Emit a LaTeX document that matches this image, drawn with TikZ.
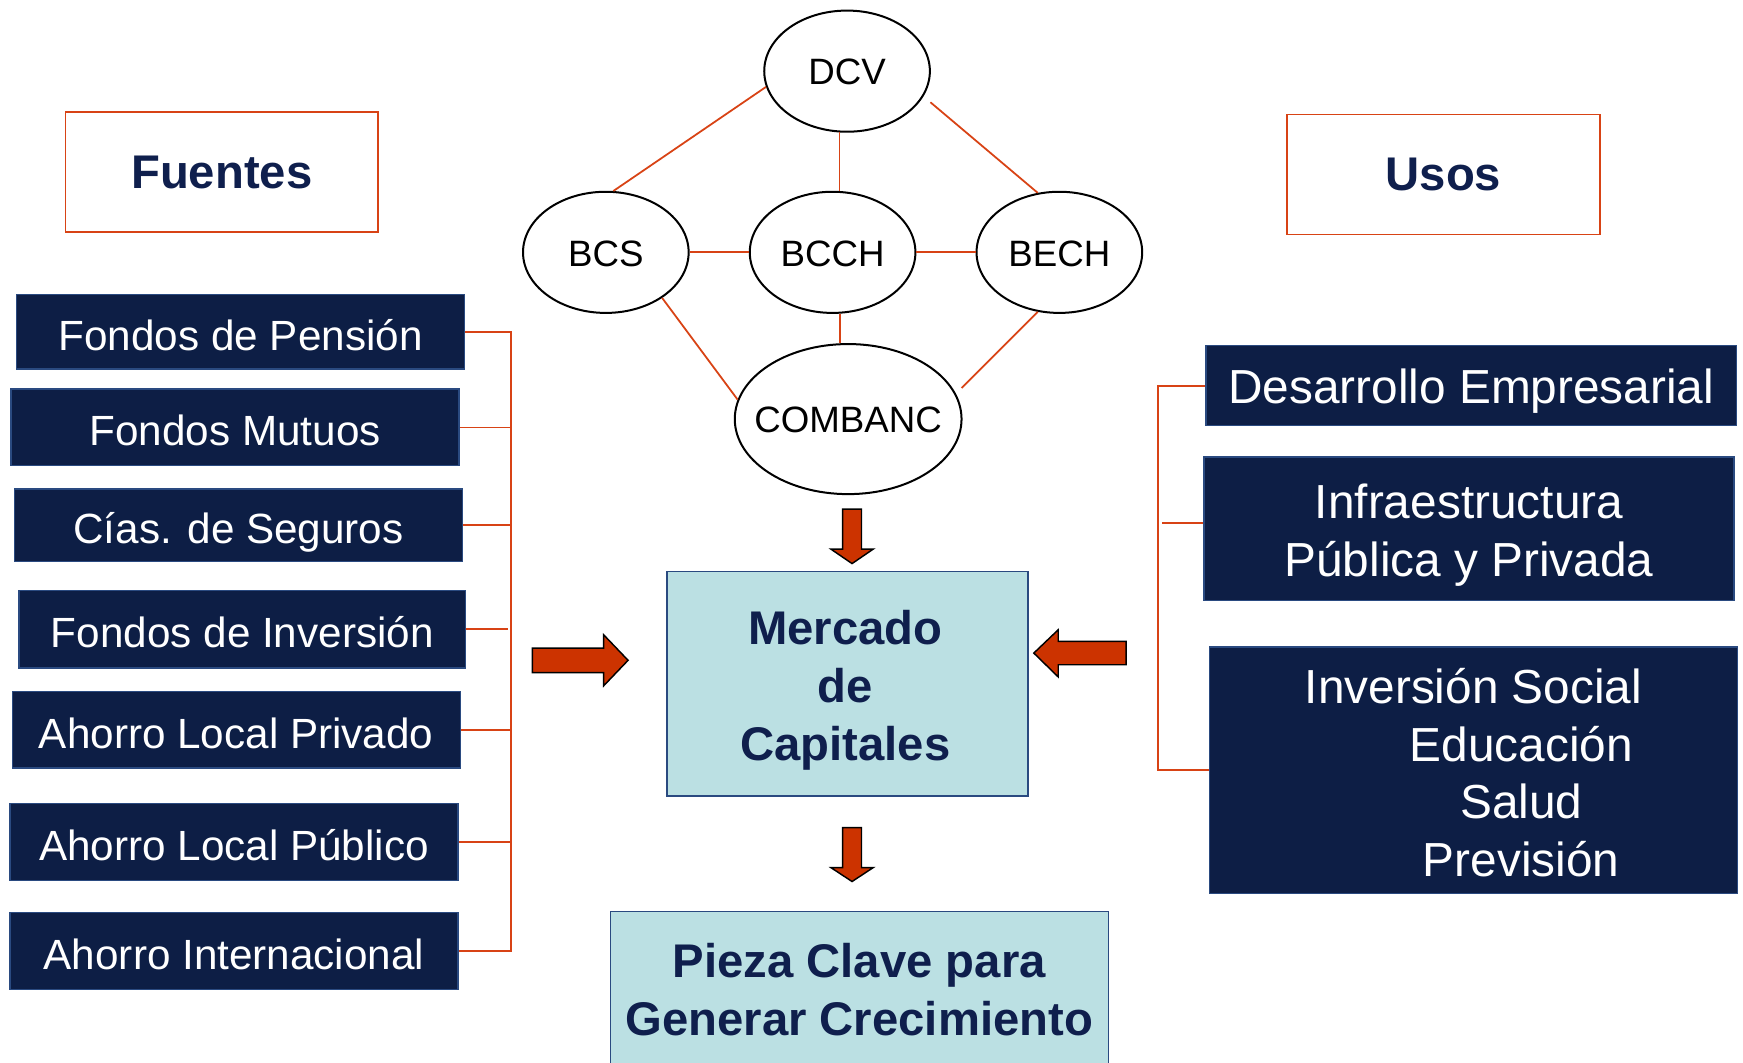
\documentclass[tikz,border=0pt]{standalone}
\usepackage{fontspec}
\setmainfont{Liberation Sans}
\usetikzlibrary{shapes.geometric,calc}
\definecolor{navy}{HTML}{0D1E45}
\definecolor{navyedge}{HTML}{2A4A80}
\definecolor{lblue}{HTML}{BBE0E3}
\definecolor{txtnavy}{HTML}{0F1F4D}
\definecolor{redl}{HTML}{D84315}
\definecolor{arrred}{HTML}{CC3300}
\begin{document}
\begin{tikzpicture}[x=1pt,y=-1pt,
  navybox/.style={rectangle, fill=navy, draw=navyedge, line width=1.2pt, text=white,
    inner sep=0pt, font=\fontsize{38}{46}\selectfont, text height=40.7pt, text depth=7.6pt},
  rnavy/.style={rectangle, fill=navy, draw=navyedge, line width=1.2pt, inner sep=0pt},
  rtext/.style={text=white, inner sep=0pt, align=center, font=\fontsize{43}{52}\selectfont},
  titlebox/.style={rectangle, draw=redl, line width=1.6pt, fill=white, text=txtnavy,
    inner sep=0pt, minimum width=281pt, minimum height=108pt,
    font=\fontsize{42.5}{52}\bfseries\selectfont},
  bluebox/.style={rectangle, fill=lblue, draw=navyedge, line width=1.4pt, inner sep=0pt},
  btext/.style={text=txtnavy, inner sep=0pt, align=center, font=\fontsize{42.5}{52}\bfseries\selectfont},
  oval/.style={ellipse, draw=black, line width=1.8pt, fill=white, inner sep=0pt,
    font=\fontsize{33}{40}\selectfont, text height=24.7pt, text depth=0pt},
  redline/.style={draw=redl, line width=1.6pt},
  blockarrow/.style={fill=arrred, draw=black, line width=1.3pt, line join=miter}
]
\useasboundingbox (0,0) rectangle (1568,956);

% titles
\node[titlebox] (fuentes) at (199.5,155) {Fuentes};
\node[titlebox] (usos) at (1298.5,157) {Usos};

% left boxes
\node[navybox, minimum width=403pt, minimum height=67pt] (fp) at (216.5,298.5) {Fondos de Pensión};
\node[navybox, minimum width=403pt, minimum height=69pt] (fm) at (211.5,384.5) {Fondos Mutuos};
\node[navybox, minimum width=403pt, minimum height=65pt] (cs) at (214.5,472.5) {Cías. de Seguros};
\node[navybox, minimum width=402pt, minimum height=70pt] (fi) at (218,566) {Fondos de Inversión};
\node[navybox, minimum width=403pt, minimum height=69pt] (alpr) at (212.5,656.5) {Ahorro Local Privado};
\node[navybox, minimum width=403pt, minimum height=69pt] (alpu) at (210.5,757.5) {Ahorro Local Público};
\node[navybox, minimum width=403pt, minimum height=69pt] (ai) at (210.5,855.5) {Ahorro Internacional};

% right boxes
\node[rnavy, minimum width=477pt, minimum height=72pt] (de) at (1323.5,347) {};
\node[rtext] (de-t) at ($(de.center)+(0,5)$) {Desarrollo Empresarial};
\node[rnavy, minimum width=477pt, minimum height=129pt] (ipp) at (1321.5,475.5) {};
\node[rtext] (ipp-t) at ($(ipp.center)+(0,6)$) {Infraestructura\\Pública y Privada};
\node[rnavy, minimum width=475pt, minimum height=222pt] (is) at (1325.5,693) {};
\node[rtext] (is-t) at ($(is.center)+(0,2)$)
  {Inversión Social\\\hspace*{86pt}Educación\\\hspace*{86pt}Salud\\\hspace*{86pt}Previsión};

% center boxes
\node[bluebox, minimum width=325pt, minimum height=202pt] (mc) at (762.5,615) {};
\node[btext] (mc-t) at ($(mc.center)+(-2,6)$) {Mercado\\de\\Capitales};
\node[bluebox, minimum width=448pt, minimum height=140pt] (pc) at (773,890) {};
\node[btext] (pc-t) at (pc.center) {Pieza Clave para\\Generar Crecimiento};

% ellipses
\node[oval, minimum width=149pt, minimum height=109pt] (dcv) at (762,64) {\makebox[0pt]{DCV}};
\node[oval, minimum width=149pt, minimum height=109pt] (bcs) at (545,227) {\makebox[0pt]{BCS}};
\node[oval, minimum width=149pt, minimum height=109pt] (bcch) at (749,227) {\makebox[0pt]{BCCH}};
\node[oval, minimum width=149pt, minimum height=109pt] (bech) at (953,227) {\makebox[0pt]{BECH}};
\node[oval, minimum width=204pt, minimum height=135pt] (combanc) at (763,377) {\makebox[0pt]{COMBANC}};

% network lines
\draw[redline] (dcv.191) -- (bcs.83);
\draw[redline] (dcv.263) -- (dcv.263 |- bcch.north);
\draw[redline] ($(dcv.center)+(75,28)$) -- (bech.110);
\draw[redline] (bcs.east) -- (bcch.west);
\draw[redline] (bcch.east) -- (bech.west);
\draw[redline] (bcs.-39) -- (combanc.170);
\draw[redline] (bcch.277) -- (bcch.277 |- combanc.north);
\draw[redline] (bech.250) -- ($(combanc.center)+(102,-28)$);

% left bracket
\coordinate (lb) at (460,0);
\draw[redline] (fp.east) -- (fp.east -| lb) -- (ai.east -| lb) -- (ai.east);
\foreach \n in {fm,cs,alpr,alpu} \draw[redline] (\n.east) -- (\n.east -| lb);
\draw[redline] (fi.east) -- +(37,0);

% right bracket
\coordinate (rb) at (1042,0);
\draw[redline] (de.west) -- (de.west -| rb) -- (is.west -| rb) -- (is.west);
\draw[redline] ($(ipp.west)+(0,-5)$) -- ($(ipp.west -| rb)+(3,-5)$);

% block arrows
\filldraw[blockarrow] (758,458) -- (775,458) -- (775,494) -- (785.5,494) -- (766.5,507)
  -- (747.5,494) -- (758,494) -- cycle;
\filldraw[blockarrow] (758,744.5) -- (775,744.5) -- (775,780.5) -- (785.5,780.5) -- (766.5,793)
  -- (747.5,780.5) -- (758,780.5) -- cycle;
\filldraw[blockarrow] (479,583) -- (543,583) -- (543,571) -- (565,594) -- (543,617)
  -- (543,605) -- (479,605) -- cycle;
\filldraw[blockarrow] (1013,577) -- (952,577) -- (952,566.5) -- (930,587.5) -- (952,609)
  -- (952,598) -- (1013,598) -- cycle;
\end{tikzpicture}
\end{document}
